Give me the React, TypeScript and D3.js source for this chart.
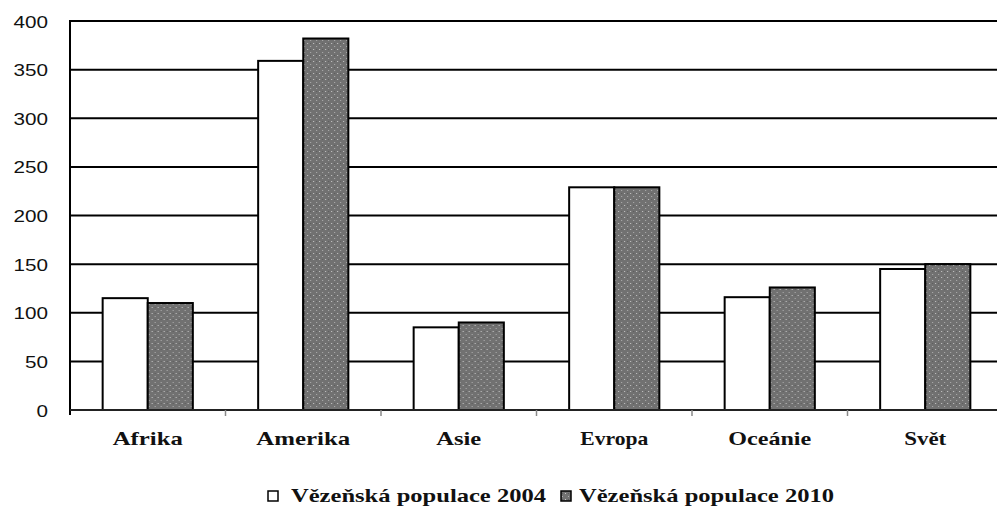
import * as d3 from "d3";
import { useEffect, useRef } from "react";

const categories = ["Afrika", "Amerika", "Asie", "Evropa", "Oceánie", "Svět"];
const pop2004 = [115, 359, 85, 229, 116, 145];
const pop2010 = [110, 382, 90, 229, 126, 150];
const seriesNames = ["Vězeňská populace 2004", "Vězeňská populace 2010"];
const yTicks = [0, 50, 100, 150, 200, 250, 300, 350, 400];

export default function App() {
  const width = 997;
  const height = 508;
  const marginLeft = 70;
  const plotRight = 1003;
  const marginTop = 21;
  const plotBottom = 410;

  const svgRef = useRef<SVGSVGElement | null>(null);

  useEffect(() => {
    const svg = d3.select(svgRef.current);
    svg.selectAll("*").remove();

    // dotted grey fill for the 2010 bars
    const defs = svg.append("defs");
    const pat = defs.append("pattern")
      .attr("id", "dots")
      .attr("patternUnits", "userSpaceOnUse")
      .attr("width", 6)
      .attr("height", 6);
    pat.append("rect").attr("width", 6).attr("height", 6).attr("fill", "#717171");
    pat.append("rect").attr("x", 1).attr("y", 1).attr("width", 1).attr("height", 1).attr("fill", "#c8c8c8");
    pat.append("rect").attr("x", 4).attr("y", 4).attr("width", 1).attr("height", 1).attr("fill", "#b0b0b0");
    pat.append("rect").attr("x", 4).attr("y", 1).attr("width", 1).attr("height", 1).attr("fill", "#5a5a5a");

    const x0 = d3.scaleBand()
      .domain(categories)
      .range([marginLeft, plotRight])
      .paddingInner(0.42)
      .paddingOuter(0.21);

    const x1 = d3.scaleBand()
      .domain(["2004", "2010"])
      .range([0, x0.bandwidth()]);

    const y = d3.scaleLinear()
      .domain([0, 400])
      .range([plotBottom, marginTop]);

    // gridlines
    svg.append("g")
      .selectAll("line")
      .data(yTicks.filter(d => d > 0))
      .enter()
      .append("line")
      .attr("x1", marginLeft)
      .attr("x2", width)
      .attr("y1", d => y(d))
      .attr("y2", d => y(d))
      .attr("stroke", "#000")
      .attr("stroke-width", 2);

    // y tick labels
    svg.append("g")
      .selectAll("text")
      .data(yTicks)
      .enter()
      .append("text")
      .attr("x", 48)
      .attr("y", d => y(d) + 6.5)
      .attr("text-anchor", "end")
      .attr("font-family", "Liberation Sans, Arial, sans-serif")
      .attr("font-size", 16)
      .attr("textLength", d => String(d).length * 11.5)
      .attr("lengthAdjust", "spacingAndGlyphs")
      .attr("fill", "#111")
      .text(d => d);

    // bars
    const groups = svg.append("g")
      .selectAll("g")
      .data(categories)
      .enter()
      .append("g")
      .attr("transform", d => `translate(${x0(d)},0)`);

    groups.append("rect")
      .attr("x", x1("2004")!)
      .attr("y", (d, i) => y(pop2004[i]))
      .attr("width", x1.bandwidth())
      .attr("height", (d, i) => plotBottom - y(pop2004[i]))
      .attr("fill", "#fff")
      .attr("stroke", "#000")
      .attr("stroke-width", 2);

    groups.append("rect")
      .attr("x", x1("2010")!)
      .attr("y", (d, i) => y(pop2010[i]))
      .attr("width", x1.bandwidth())
      .attr("height", (d, i) => plotBottom - y(pop2010[i]))
      .attr("fill", "url(#dots)")
      .attr("stroke", "#000")
      .attr("stroke-width", 2);

    // axes
    svg.append("line")
      .attr("x1", marginLeft).attr("x2", marginLeft)
      .attr("y1", marginTop - 1).attr("y2", plotBottom + 5)
      .attr("stroke", "#000").attr("stroke-width", 2);
    svg.append("line")
      .attr("x1", marginLeft).attr("x2", width)
      .attr("y1", plotBottom).attr("y2", plotBottom)
      .attr("stroke", "#222").attr("stroke-width", 2);

    const step = x0.step();
    svg.append("g")
      .selectAll("line")
      .data(categories.slice(1))
      .enter()
      .append("line")
      .attr("x1", d => x0(d)! - step * x0.paddingInner() / 2)
      .attr("x2", d => x0(d)! - step * x0.paddingInner() / 2)
      .attr("y1", plotBottom)
      .attr("y2", plotBottom + 6)
      .attr("stroke", "#888")
      .attr("stroke-width", 1.5);

    // category labels
    const labelWidths = [70, 94, 45, 68, 83, 42];
    svg.append("g")
      .selectAll("text")
      .data(categories)
      .enter()
      .append("text")
      .attr("x", d => x0(d)! + x0.bandwidth() / 2)
      .attr("y", 445)
      .attr("text-anchor", "middle")
      .attr("font-family", "Liberation Serif, Times New Roman, serif")
      .attr("font-weight", "bold")
      .attr("font-size", 19)
      .attr("textLength", (d, i) => labelWidths[i])
      .attr("lengthAdjust", "spacingAndGlyphs")
      .attr("fill", "#111")
      .text(d => d);

    // legend
    const legend = [
      { name: seriesNames[0], fill: "#fff", sx: 268, tx: 291 },
      { name: seriesNames[1], fill: "url(#dots)", sx: 561, tx: 579 },
    ];
    const lg = svg.append("g");
    lg.selectAll("rect")
      .data(legend)
      .enter()
      .append("rect")
      .attr("x", d => d.sx)
      .attr("y", 491)
      .attr("width", 10)
      .attr("height", 10)
      .attr("fill", d => d.fill)
      .attr("stroke", "#000")
      .attr("stroke-width", 1.5);
    lg.selectAll("text")
      .data(legend)
      .enter()
      .append("text")
      .attr("x", d => d.tx)
      .attr("y", 502)
      .attr("font-family", "Liberation Serif, Times New Roman, serif")
      .attr("font-weight", "bold")
      .attr("font-size", 19)
      .attr("textLength", 255)
      .attr("lengthAdjust", "spacingAndGlyphs")
      .attr("fill", "#111")
      .text(d => d.name);
  }, []);

  return (
    <svg
      ref={svgRef}
      width={width}
      height={height}
      style={{ position: "absolute", left: 0, top: 0, background: "#fff" }}
    />
  );
}
